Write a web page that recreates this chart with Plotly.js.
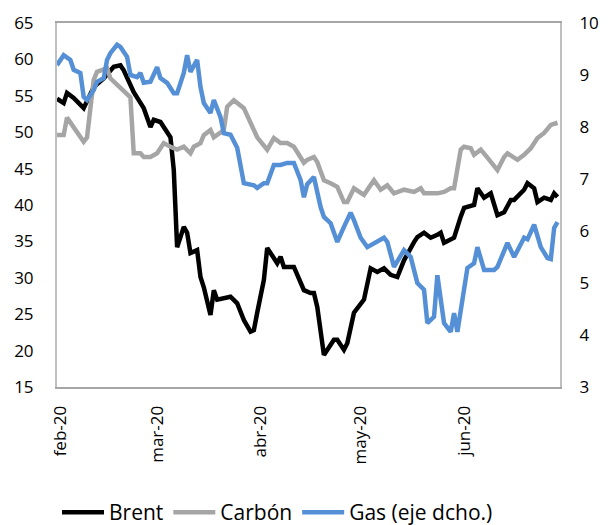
<!DOCTYPE html>
<html>
<head>
<meta charset="utf-8">
<script src="https://cdn.plot.ly/plotly-3.0.1.min.js"></script>
<style>html,body{margin:0;padding:0;background:#fff;}#chart{width:613px;height:525px;}</style>
</head>
<body>
<div id="chart"></div>
<script>
// Brent (left axis)
const brentDates = ["2020-01-31","2020-02-02","2020-02-03","2020-02-05","2020-02-08","2020-02-09","2020-02-11","2020-02-14","2020-02-17","2020-02-19","2020-02-20","2020-02-23","2020-02-26","2020-02-28","2020-02-29","2020-03-02","2020-03-05","2020-03-06","2020-03-07","2020-03-09","2020-03-10","2020-03-11","2020-03-13","2020-03-14","2020-03-15","2020-03-17","2020-03-18","2020-03-19","2020-03-23","2020-03-25","2020-03-27","2020-03-29","2020-03-30","2020-03-31","2020-04-02","2020-04-03","2020-04-05","2020-04-06","2020-04-07","2020-04-08","2020-04-11","2020-04-14","2020-04-16","2020-04-17","2020-04-18","2020-04-20","2020-04-23","2020-04-24","2020-04-26","2020-04-27","2020-04-29","2020-05-02","2020-05-04","2020-05-06","2020-05-08","2020-05-10","2020-05-12","2020-05-14","2020-05-17","2020-05-18","2020-05-20","2020-05-22","2020-05-24","2020-05-25","2020-05-26","2020-05-28","2020-05-29","2020-05-31","2020-06-01","2020-06-04","2020-06-05","2020-06-07","2020-06-09","2020-06-11","2020-06-13","2020-06-15","2020-06-16","2020-06-19","2020-06-20","2020-06-22","2020-06-23","2020-06-25","2020-06-27","2020-06-28","2020-06-29"];
const brentValues = [54.6,54.0,55.4,54.7,53.3,54.3,56.2,57.4,59.0,59.2,58.5,55.5,53.3,50.7,51.7,51.4,49.3,44.8,34.2,37.0,36.2,33.4,33.8,30.1,28.7,24.9,28.3,27.0,27.4,26.5,24.2,22.6,22.8,25.2,29.7,34.1,32.6,32.0,32.9,31.5,31.5,28.3,27.9,27.9,26.0,19.4,21.5,21.5,20.1,21.0,25.2,27.0,31.3,30.8,31.3,30.4,30.1,32.4,34.9,35.6,36.2,35.5,35.9,36.2,34.8,35.2,35.5,38.4,39.6,40.0,42.3,41.0,41.6,38.6,39.0,40.7,40.7,42.1,43.0,42.3,40.4,41.0,40.7,41.6,41.1];

// Carbón (left axis)
const carbonDates = ["2020-01-31","2020-02-02","2020-02-03","2020-02-05","2020-02-06","2020-02-08","2020-02-09","2020-02-11","2020-02-12","2020-02-13","2020-02-15","2020-02-16","2020-02-18","2020-02-20","2020-02-22","2020-02-23","2020-02-25","2020-02-26","2020-02-28","2020-03-01","2020-03-03","2020-03-05","2020-03-07","2020-03-09","2020-03-11","2020-03-12","2020-03-14","2020-03-15","2020-03-17","2020-03-18","2020-03-20","2020-03-21","2020-03-22","2020-03-24","2020-03-27","2020-03-29","2020-03-31","2020-04-03","2020-04-05","2020-04-07","2020-04-09","2020-04-11","2020-04-14","2020-04-15","2020-04-17","2020-04-18","2020-04-20","2020-04-22","2020-04-24","2020-04-26","2020-04-27","2020-04-29","2020-05-02","2020-05-05","2020-05-07","2020-05-09","2020-05-11","2020-05-14","2020-05-17","2020-05-19","2020-05-20","2020-05-23","2020-05-24","2020-05-26","2020-05-28","2020-05-29","2020-05-31","2020-06-01","2020-06-03","2020-06-04","2020-06-06","2020-06-08","2020-06-11","2020-06-13","2020-06-14","2020-06-17","2020-06-19","2020-06-21","2020-06-23","2020-06-25","2020-06-27","2020-06-29"];
const carbonValues = [49.6,49.6,52.0,50.7,49.9,48.7,49.3,57.2,58.3,58.5,58.8,57.4,56.5,55.8,54.8,47.1,47.1,46.6,46.6,47.1,48.5,48.0,47.6,48.0,47.1,48.0,48.5,49.6,50.3,49.3,50.0,50.3,53.5,54.4,53.3,51.3,49.3,47.6,49.2,48.5,48.5,48.0,45.8,46.2,46.6,45.9,43.4,43.0,42.5,40.4,40.4,42.3,41.4,43.4,42.1,42.7,41.6,42.1,41.8,42.3,41.6,41.6,41.6,41.8,42.3,42.3,47.6,48.0,47.8,46.9,47.6,46.5,44.8,46.6,47.1,46.2,46.9,47.8,49.2,49.9,51.0,51.3];

// Gas (right axis)
const gasDates = ["2020-01-31","2020-02-02","2020-02-04","2020-02-05","2020-02-07","2020-02-08","2020-02-09","2020-02-11","2020-02-12","2020-02-14","2020-02-15","2020-02-16","2020-02-18","2020-02-19","2020-02-21","2020-02-22","2020-02-24","2020-02-25","2020-02-26","2020-02-28","2020-03-01","2020-03-02","2020-03-04","2020-03-06","2020-03-07","2020-03-09","2020-03-10","2020-03-11","2020-03-13","2020-03-14","2020-03-15","2020-03-17","2020-03-18","2020-03-20","2020-03-21","2020-03-23","2020-03-25","2020-03-27","2020-03-30","2020-03-31","2020-04-02","2020-04-03","2020-04-05","2020-04-07","2020-04-09","2020-04-11","2020-04-13","2020-04-14","2020-04-15","2020-04-17","2020-04-19","2020-04-20","2020-04-22","2020-04-24","2020-04-26","2020-04-28","2020-04-29","2020-05-01","2020-05-03","2020-05-05","2020-05-08","2020-05-09","2020-05-11","2020-05-14","2020-05-16","2020-05-18","2020-05-20","2020-05-21","2020-05-23","2020-05-24","2020-05-25","2020-05-26","2020-05-28","2020-05-29","2020-05-30","2020-06-01","2020-06-02","2020-06-04","2020-06-05","2020-06-07","2020-06-10","2020-06-11","2020-06-14","2020-06-16","2020-06-19","2020-06-20","2020-06-22","2020-06-24","2020-06-26","2020-06-27","2020-06-28","2020-06-29"];
const gasValues = [9.19,9.38,9.29,9.10,9.04,8.58,8.52,8.71,8.87,8.94,9.29,9.42,9.58,9.54,9.35,9.00,8.96,9.04,8.85,8.87,9.15,8.94,8.85,8.65,8.65,9.04,9.38,9.06,9.29,8.77,8.46,8.27,8.52,8.19,7.88,7.85,7.60,6.92,6.88,6.83,6.92,6.92,7.27,7.27,7.31,7.31,6.98,6.65,6.90,7.04,6.46,6.27,6.15,5.79,6.08,6.35,6.21,5.87,5.69,5.77,5.87,5.79,5.31,5.63,5.50,5.00,4.87,4.23,4.35,5.15,4.67,4.23,4.06,4.42,4.06,4.81,5.29,5.38,5.69,5.25,5.25,5.31,5.77,5.50,5.87,5.84,6.12,5.69,5.48,5.46,6.06,6.17];

const seriesNames = ["Brent", "Carbón", "Gas (eje dcho.)"];
const xTickVals = ["2020-02-01","2020-03-01","2020-04-01","2020-05-01","2020-06-01"];
const xTickText = ["feb-20","mar-20","abr-20","may-20","jun-20"];

const FONT = "Open Sans, Noto Sans, sans-serif";
const traces = [
  {x: brentDates, y: brentValues, name: seriesNames[0], type: "scatter", mode: "lines",
   line: {color: "#000000", width: 4.5, shape: "linear"}, yaxis: "y"},
  {x: carbonDates, y: carbonValues, name: seriesNames[1], type: "scatter", mode: "lines",
   line: {color: "#A5A5A5", width: 4.5}, yaxis: "y"},
  {x: gasDates, y: gasValues, name: seriesNames[2], type: "scatter", mode: "lines",
   line: {color: "#5590D6", width: 4.5}, yaxis: "y2"}
];

const layout = {
  width: 613, height: 525,
  margin: {l: 57, r: 53, t: 23, b: 138, autoexpand: false},
  paper_bgcolor: "#ffffff", plot_bgcolor: "#ffffff",
  font: {family: FONT, size: 17, color: "#000000"},
  showlegend: true,
  legend: {orientation: "h", x: 0.0, xanchor: "left", y: -0.345, yanchor: "middle",
           font: {family: FONT, size: 21, color: "#000000"}, itemwidth: 42, tracegroupgap: 0},
  xaxis: {type: "date", range: ["2020-01-31", "2020-06-29 18:00"],
          tickmode: "array", tickvals: xTickVals, ticktext: xTickText, tickangle: -90,
          showgrid: false, zeroline: false, showline: true, linecolor: "#A6A6A6", linewidth: 2,
          mirror: true, ticks: "", ticklabelstandoff: 10,
          tickfont: {family: FONT, size: 17, color: "#000000"}},
  yaxis: {range: [15, 65], dtick: 5, tick0: 15, showgrid: false, zeroline: false,
          showline: true, linecolor: "#BFBFBF", linewidth: 2, ticks: "", ticklabelstandoff: 18,
          tickfont: {family: FONT, size: 17, color: "#000000"}},
  yaxis2: {range: [3, 10], dtick: 1, tick0: 3, overlaying: "y", side: "right", showgrid: false,
           zeroline: false, showline: true, linecolor: "#BFBFBF", linewidth: 2, ticks: "",
           ticklabelstandoff: 14, tickfont: {family: FONT, size: 17, color: "#000000"}}
};

Plotly.newPlot("chart", traces, layout, {displayModeBar: false, staticPlot: true});
</script>
</body>
</html>
